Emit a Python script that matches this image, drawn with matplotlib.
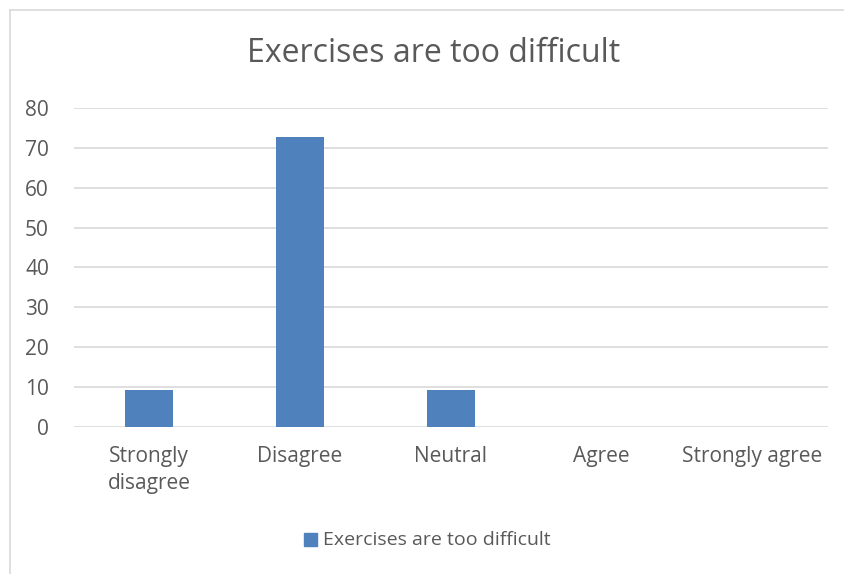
import numpy as np
import matplotlib.pyplot as plt
from matplotlib.patches import Rectangle
from matplotlib.lines import Line2D

# Survey responses (percent)
categories = ['Strongly\ndisagree', 'Disagree', 'Neutral', 'Agree', 'Strongly agree']
values = [9.09, 72.73, 9.09, 0, 0]
series_name = 'Exercises are too difficult'
y_ticks = [0, 10, 20, 30, 40, 50, 60, 70, 80]

bar_color = '#4f81bd'
text_color = '#595959'
grid_color = '#d9d9d9'

plt.rcParams['font.family'] = ['Open Sans', 'DejaVu Sans']

W, H = 844, 574
fig = plt.figure(figsize=(W / 100, H / 100), dpi=100)

# outer chart border (top and left visible)
fig.add_artist(Line2D([9.5 / W, 1.0], [1 - 9.5 / H, 1 - 9.5 / H], color='#d9d9d9', lw=1.2))
fig.add_artist(Line2D([9.5 / W, 9.5 / W], [0, 1 - 9.5 / H], color='#d9d9d9', lw=1.2))

ax = fig.add_axes([74 / W, 1 - 426.7 / H, (827.7 - 74) / W, (426.7 - 108) / H])
x = np.arange(len(categories))
ax.bar(x, values, width=0.32, color=bar_color, zorder=3)

ax.set_xlim(-0.5, len(categories) - 0.5)
ax.set_ylim(0, 80)
ax.set_yticks(y_ticks)
ax.set_xticks(x)
ax.set_xticklabels(categories, linespacing=1.35)
ax.tick_params(axis='both', length=0, labelsize=15, colors=text_color)
ax.tick_params(axis='x', pad=14)
ax.tick_params(axis='y', pad=18)
ax.yaxis.grid(True, color=grid_color, lw=1.2, zorder=0)
for s in ax.spines.values():
    s.set_visible(False)

fig.text(434 / W, 1 - 53 / H, series_name, ha='center', va='center',
         fontsize=23, color=text_color)

# legend
fig.add_artist(Rectangle((304 / W, 1 - 546 / H), 13 / W, 13 / H,
                         transform=fig.transFigure, color=bar_color))
fig.text(323 / W, 1 - 540 / H, series_name, ha='left', va='center',
         fontsize=14, color=text_color)

fig.savefig('out.png', dpi=100)
